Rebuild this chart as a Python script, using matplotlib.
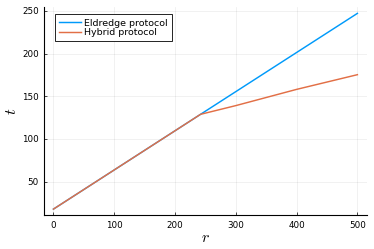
import matplotlib
matplotlib.use("Agg")
import matplotlib.pyplot as plt

r_eld = [0, 242, 500]
t_eld = [17.8, 128.8, 247.0]
r_hyb = [0, 242, 300, 400, 500]
t_hyb = [17.8, 128.8, 139.0, 158.0, 175.2]
labels = ["Eldredge protocol", "Hybrid protocol"]
xticks = [0, 100, 200, 300, 400, 500]
yticks = [50, 100, 150, 200, 250]

plt.rcParams['mathtext.fontset'] = 'cm'
fig = plt.figure(figsize=(3.74, 2.49), dpi=100)
ax = fig.add_axes([0.1185, 0.1365, 0.8615, 0.8335])
ax.plot(r_eld, t_eld, color='#009AFA', lw=1.05, label=labels[0])
ax.plot(r_hyb, t_hyb, color='#E26F46', lw=1.05, label=labels[1])
ax.set_xlim(-15, 515)
ax.set_ylim(10.9, 253.9)
ax.set_xticks(xticks)
ax.set_yticks(yticks)
ax.grid(True, color='black', alpha=0.08, lw=0.5)
for s in ['top', 'right']:
    ax.spines[s].set_visible(False)
for s in ['left', 'bottom']:
    ax.spines[s].set_linewidth(0.8)
ax.tick_params(direction='in', length=2.5, width=0.5, labelsize=6.3, pad=4)
ax.set_xlabel('$r$', fontsize=11.5, labelpad=0)
ax.set_ylabel('$t$', fontsize=11.5, labelpad=2)
leg = ax.legend(loc='upper left', fontsize=6.8, fancybox=False, framealpha=1,
                edgecolor='black', borderpad=0.47, handlelength=2.3,
                handletextpad=0.35, labelspacing=0.02, borderaxespad=0,
                bbox_to_anchor=(0.033, 0.967))
leg.get_frame().set_linewidth(0.6)
fig.savefig('out.png', dpi=100)
